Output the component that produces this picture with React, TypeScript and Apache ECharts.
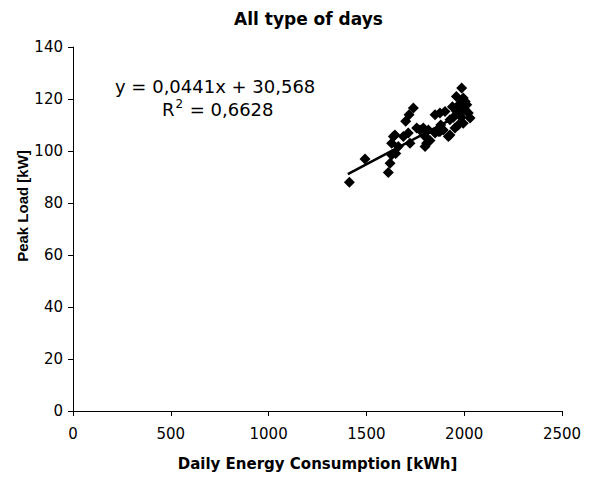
import React, { useEffect, useRef } from "react";
import * as echarts from "echarts";

// Daily energy consumption [kWh] and peak load [kW] for each day
const energyKWh = [
  1413, 1493, 1612, 1621, 1629, 1638, 1629, 1740, 1718, 1701,
  1851, 1757, 1714, 1689, 1800, 1800, 1723, 1663, 1650, 1817,
  1851, 1987, 1995, 2013, 2021, 1962, 1902, 1927, 1953, 1919,
  1876, 1995, 2030, 1975, 1960, 2000, 1940, 1985, 1970, 1945,
  2005, 1880, 1825, 1646, 1791, 1808, 1868, 1893, 1927, 1774,
  1876, 1995,
];
const peakKW = [
  88.0, 96.9, 91.7, 95.3, 98.5, 105.6, 103.0, 116.5, 113.9, 111.4,
  113.9, 108.8, 106.9, 105.6, 105.6, 101.7, 103.0, 101.7, 99.0, 108.1,
  106.9, 124.2, 120.4, 117.8, 114.6, 115.2, 115.2, 112.0, 108.8, 105.6,
  107.5, 110.7, 112.7, 118.0, 121.0, 116.0, 117.0, 113.0, 110.0, 113.0,
  119.0, 110.0, 104.0, 106.2, 108.8, 103.0, 107.5, 108.1, 106.2, 108.1,
  114.6, 118.4,
];

// Linear trend line end points (as drawn)
const trendX = [1405, 2030];
const trendY = [91.1, 116.0];

const titleText = "All type of days";
const equationText = "y = 0,0441x + 30,568";
const r2Value = " = 0,6628";
const xAxisTitle = "Daily Energy Consumption [kWh]";
const yAxisTitle = "Peak Load [kW]";

const xMin = 0, xMax = 2500, xStep = 500;
const yMin = 0, yMax = 140, yStep = 20;

export default function App() {
  const ref = useRef<HTMLDivElement>(null);

  useEffect(() => {
    if (!ref.current) return;
    const chart = echarts.init(ref.current, undefined, { renderer: "svg" });
    const points = energyKWh.map((x, i) => [x, peakKW[i]]);
    const trend = trendX.map((x, i) => [x, trendY[i]]);
    const font = "DejaVu Sans";

    chart.setOption({
      animation: false,
      backgroundColor: "#ffffff",
      grid: { left: 73, right: 38, top: 47, bottom: 66, containLabel: false },
      xAxis: {
        type: "value",
        min: xMin,
        max: xMax,
        interval: xStep,
        name: xAxisTitle,
        nameLocation: "middle",
        nameGap: 45,
        nameTextStyle: { fontFamily: font, fontWeight: "bold", fontSize: 15, color: "#000" },
        axisLine: { show: true, onZero: false, lineStyle: { color: "#000", width: 1 } },
        axisTick: { show: true, inside: false, length: 5, lineStyle: { color: "#000" } },
        axisLabel: {
          fontFamily: font,
          fontSize: 15,
          color: "#000",
          margin: 15,
          formatter: (v: number) => String(v),
        },
        splitLine: { show: false },
      },
      yAxis: {
        type: "value",
        min: yMin,
        max: yMax,
        interval: yStep,
        axisLine: { show: true, onZero: false, lineStyle: { color: "#000", width: 1 } },
        axisTick: { show: true, inside: false, length: 5, lineStyle: { color: "#000" } },
        axisLabel: {
          fontFamily: font,
          fontSize: 15,
          color: "#000",
          margin: 10,
          formatter: (v: number) => String(v),
        },
        splitLine: { show: false },
      },
      graphic: [
        {
          type: "text",
          x: 308.5,
          y: 19,
          style: {
            text: titleText,
            fontFamily: font,
            fontWeight: "bold",
            fontSize: 17,
            fill: "#000",
            align: "center",
            verticalAlign: "middle",
          },
        },
        {
          type: "text",
          x: 22,
          y: 206,
          rotation: Math.PI / 2,
          style: {
            text: yAxisTitle,
            fontFamily: "Liberation Sans",
            fontWeight: "bold",
            fontSize: 15,
            fill: "#000",
            align: "center",
            verticalAlign: "middle",
          },
        },
        {
          type: "text",
          x: 115,
          y: 86,
          style: {
            text: equationText,
            fontFamily: font,
            fontSize: 18,
            fill: "#000",
            align: "left",
            verticalAlign: "middle",
          },
        },
        {
          type: "text",
          x: 162,
          y: 109,
          style: {
            text: "R",
            fontFamily: font,
            fontSize: 18,
            fill: "#000",
            align: "left",
            verticalAlign: "middle",
          },
        },
        {
          type: "text",
          x: 175.5,
          y: 104,
          style: {
            text: "2",
            fontFamily: font,
            fontSize: 12,
            fill: "#000",
            align: "left",
            verticalAlign: "middle",
          },
        },
        {
          type: "text",
          x: 184,
          y: 109,
          style: {
            text: r2Value,
            fontFamily: font,
            fontSize: 18,
            fill: "#000",
            align: "left",
            verticalAlign: "middle",
          },
        },
      ],
      series: [
        {
          type: "scatter",
          data: points,
          symbol: "diamond",
          symbolSize: 11,
          itemStyle: { color: "#000", opacity: 1 },
          z: 2,
        },
        {
          type: "line",
          data: trend,
          showSymbol: false,
          symbol: "none",
          lineStyle: { color: "#000", width: 2.5 },
          z: 3,
        },
      ],
    });

    return () => chart.dispose();
  }, []);

  return (
    <div
      ref={ref}
      style={{ position: "fixed", left: 0, top: 0, width: 600, height: 477, background: "#fff" }}
    />
  );
}
